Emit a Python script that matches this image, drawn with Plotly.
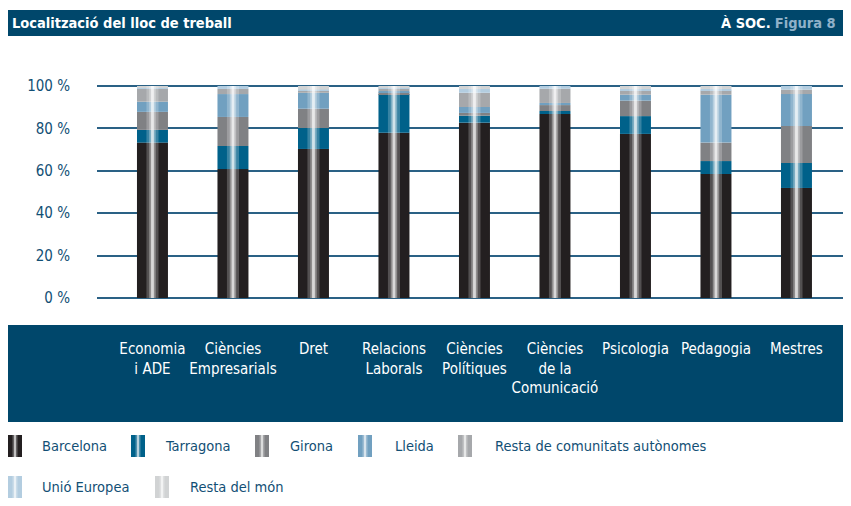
import plotly.graph_objects as go

# ---------------- data ----------------
categories = ["Economia<br>i ADE", "Ciències<br>Empresarials", "Dret", "Relacions<br>Laborals",
              "Ciències<br>Polítiques", "Ciències<br>de la<br>Comunicació", "Psicologia",
              "Pedagogia", "Mestres"]
series_names = ["Barcelona", "Tarragona", "Girona", "Lleida",
                "Resta de comunitats autònomes", "Unió Europea", "Resta del món"]
barcelona = [73.3, 60.8, 70.3, 78.0, 82.7, 86.8, 77.4, 58.5, 51.9]
tarragona = [6.0, 10.9, 9.9, 18.2, 3.3, 1.4, 8.4, 6.1, 11.8]
girona = [8.5, 13.7, 9.1, 0.8, 1.3, 2.8, 7.3, 8.7, 17.4]
lleida = [4.8, 10.8, 7.5, 0.6, 2.8, 1.0, 2.8, 22.6, 15.1]
resta_ccaa = [6.0, 2.4, 1.0, 1.3, 6.7, 6.7, 1.9, 1.9, 2.1]
unio_europea = [0.7, 1.4, 0.5, 0.6, 1.8, 1.3, 0.8, 0.8, 1.7]
resta_mon = [0.7, 0.0, 1.7, 0.5, 1.4, 0.0, 1.4, 1.4, 0.0]
y_ticks = [0, 20, 40, 60, 80, 100]

series_values = [barcelona, tarragona, girona, lleida, resta_ccaa, unio_europea, resta_mon]
colors = ["#231f20", "#00618a", "#808184", "#71a0c0", "#a6a8ab", "#b3cde0", "#d1d3d4"]

FONT = "DejaVu Sans Condensed, Liberation Sans Narrow, Roboto, sans-serif"
DARK = "#00476b"
TXT = "#124f75"

# page has an 8px body margin: the figure is drawn 8px smaller and all page
# coordinates below are reference-page pixels
OFF = 8
W, H = 851 - OFF, 506 - OFF
L, R, T, B = 97, 850, 80, 304   # plot area in page pixels


def px_x(px):
    return (px - L) / (R - L)


def px_y(py):
    return (B - py) / (B - T)


fig = go.Figure()

bar_w = 0.385
cum = [0.0] * len(categories)
for name, vals, col in zip(series_names, series_values, colors):
    fig.add_trace(go.Bar(x=categories, y=vals, base=list(cum), name=name, width=bar_w,
                         marker=dict(color=col, line=dict(width=0)), showlegend=False))
    cum = [c + v for c, v in zip(cum, vals)]

# glossy centre stripe on each bar (height = stack total)
totals = cum
for w, a in [(0.15, 0.22), (0.08, 0.35), (0.035, 0.65)]:
    fig.add_trace(go.Bar(x=categories, y=totals, base=[0] * len(totals), width=w,
                         marker=dict(color=f"rgba(255,255,255,{a})", line=dict(width=0)),
                         showlegend=False, hoverinfo="skip"))

shapes = []
annotations = []

# header band
shapes.append(dict(type="rect", xref="paper", yref="paper", x0=px_x(5), x1=px_x(845),
                   y0=px_y(36), y1=px_y(10), fillcolor=DARK, line=dict(width=0), layer="below"))
annotations.append(dict(xref="paper", yref="paper", x=px_x(10), y=px_y(23), xanchor="left",
                        yanchor="middle", showarrow=False,
                        text="<b>Localització del lloc de treball</b>",
                        font=dict(family=FONT, size=14.5, color="white")))
annotations.append(dict(xref="paper", yref="paper", x=px_x(838), y=px_y(23), xanchor="right",
                        yanchor="middle", showarrow=False,
                        text="<b>À SOC.</b> <b><span style='color:#8fb1c9'>Figura 8</span></b>",
                        font=dict(family=FONT, size=14.5, color="white")))

# category band
shapes.append(dict(type="rect", xref="paper", yref="paper", x0=px_x(5), x1=px_x(845),
                   y0=px_y(422), y1=px_y(325), fillcolor=DARK, line=dict(width=0), layer="below"))

# custom legend
legend_items = [
    (8, 40, 446), (131, 163, 446), (255, 288, 446), (358, 393, 446), (458, 493, 446),
    (8, 40, 487), (155, 188, 487),
]
for (sx, tx, cy), name, col in zip(legend_items, series_names, colors):
    shapes.append(dict(type="rect", xref="paper", yref="paper", x0=px_x(sx), x1=px_x(sx + 14),
                       y0=px_y(cy + 11), y1=px_y(cy - 11), fillcolor=col, line=dict(width=0)))
    for dx0, dx1, a in [(4.5, 9.5, 0.3), (6, 8, 0.6)]:
        shapes.append(dict(type="rect", xref="paper", yref="paper", x0=px_x(sx + dx0),
                           x1=px_x(sx + dx1), y0=px_y(cy + 11), y1=px_y(cy - 11),
                           fillcolor=f"rgba(255,255,255,{a})", line=dict(width=0)))
    annotations.append(dict(xref="paper", yref="paper", x=px_x(tx), y=px_y(cy), xanchor="left",
                            yanchor="middle", showarrow=False, text=name,
                            font=dict(family=FONT, size=14.5, color=TXT)))

fig.update_layout(
    width=W, height=H,
    margin=dict(l=L - OFF, r=851 - R, t=T - OFF, b=506 - B, pad=0),
    barmode="overlay",
    paper_bgcolor="white", plot_bgcolor="white",
    showlegend=False,
    shapes=shapes, annotations=annotations,
    font=dict(family=FONT),
    xaxis=dict(type="category", range=[-0.689, 8.665], showgrid=False, zeroline=False,
               showline=False, ticks="", tickangle=0, ticklabelstandoff=34,
               tickfont=dict(family=FONT, size=15, color="white")),
    yaxis=dict(range=[-2.83, 102.83], tickvals=y_ticks, ticktext=[f"{v} %" for v in y_ticks],
               showgrid=True, gridcolor="#2a6185", gridwidth=2, zeroline=False, showline=False,
               ticks="", ticklabelstandoff=26,
               tickfont=dict(family=FONT, size=15, color=TXT)),
)

fig.write_html("out.html")
